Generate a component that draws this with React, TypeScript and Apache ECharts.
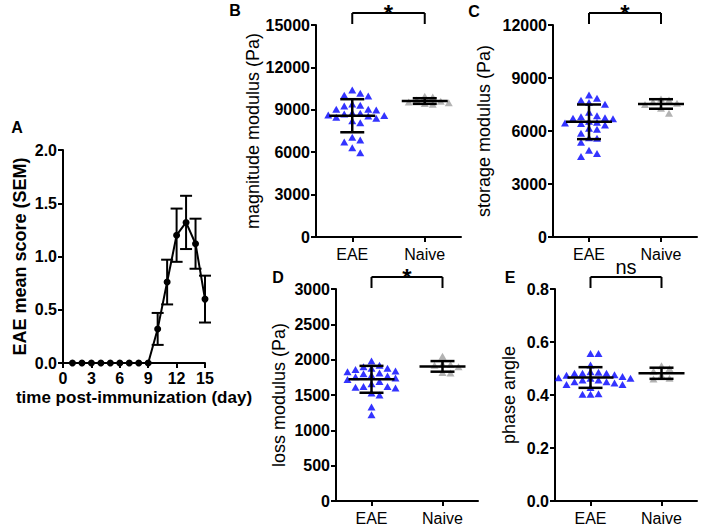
import React, { useEffect, useRef } from 'react';
import * as echarts from 'echarts';

// ---------- data ----------
const days = [1, 2, 3, 4, 5, 6, 7, 8, 9, 10, 11, 12, 13, 14, 15];
const scoreMean = [0, 0, 0, 0, 0, 0, 0, 0, 0, 0.32, 0.76, 1.2, 1.32, 1.12, 0.6];
const scoreSem = [0, 0, 0, 0, 0, 0, 0, 0, 0, 0.15, 0.21, 0.25, 0.25, 0.235, 0.22];
const dayTicks = [0, 3, 6, 9, 12, 15];

const groups = ['EAE', 'Naive'];

const magEae = [10170, 9980, 10030, 10400, 9410, 9270, 9040, 8990, 9040, 9320, 8560, 8470, 8750, 8800, 8630, 8700, 8230, 8090, 8600, 6860, 6720, 7050, 5960, 6320, 8400];
const magNaive = [9950, 9900, 9600, 9500, 9450, 9550, 9700, 9400];
const magMean = [8580, 9620];
const magSd = [1170, 200];

const storEae = [8040, 7850, 7620, 7740, 7510, 7060, 6810, 6720, 6870, 6750, 6420, 6550, 6700, 6450, 6340, 6490, 6100, 6150, 5870, 5590, 5360, 5620, 4910, 4550, 4720];
const storNaive = [7570, 7750, 7810, 7290, 7660, 7000, 7500];
const storMean = [6520, 7530];
const storSd = [980, 270];

const lossEae = [1920, 1860, 1980, 1880, 1880, 1770, 1800, 1810, 1830, 1840, 1780, 1620, 1620, 1660, 1690, 1610, 1500, 1530, 1330, 1220, 1600, 1740, 1720, 1760, 1900];
const lossNaive = [2050, 1930, 1920, 1820, 1810, 1900, 1940];
const lossMean = [1722, 1905];
const lossSd = [190, 75];

const phaseEae = [0.557, 0.557, 0.513, 0.486, 0.476, 0.488, 0.482, 0.482, 0.482, 0.463, 0.457, 0.45, 0.457, 0.45, 0.463, 0.44, 0.428, 0.44, 0.403, 0.403, 0.405, 0.47, 0.465, 0.475, 0.445];
const phaseNaive = [0.51, 0.5, 0.49, 0.46, 0.463, 0.475];
const phaseMean = [0.466, 0.482];
const phaseSd = [0.039, 0.021];

// ---------- layout / style ----------
const FONT = '"Liberation Sans", Arial, Helvetica, sans-serif';
const BLACK = '#000';

interface Panel {
  letter: string;
  letterPos: [number, number];
  grid: { left: number; top: number; width: number; height: number };
  yMax: number;
  yInterval: number;
  decimals: number;
  yName: string;
  nameGap: number;
  eae: number[];
  naive: number[];
  mean: number[];
  sd: number[];
  sig: string;
}

const panels: Panel[] = [
  { letter: 'B', letterPos: [235, 10], grid: { left: 316, top: 25, width: 145, height: 212 }, yMax: 15000, yInterval: 3000, decimals: 0, yName: 'magnitude modulus (Pa)', nameGap: 54, eae: magEae, naive: magNaive, mean: magMean, sd: magSd, sig: '*' },
  { letter: 'C', letterPos: [474, 11], grid: { left: 553, top: 25, width: 144, height: 212 }, yMax: 12000, yInterval: 3000, decimals: 0, yName: 'storage modulus (Pa)', nameGap: 60, eae: storEae, naive: storNaive, mean: storMean, sd: storSd, sig: '*' },
  { letter: 'D', letterPos: [278, 277], grid: { left: 336, top: 289, width: 142, height: 212 }, yMax: 3000, yInterval: 500, decimals: 0, yName: 'loss modulus (Pa)', nameGap: 48, eae: lossEae, naive: lossNaive, mean: lossMean, sd: lossSd, sig: '*' },
  { letter: 'E', letterPos: [510, 277], grid: { left: 555, top: 289, width: 142, height: 212 }, yMax: 0.8, yInterval: 0.2, decimals: 1, yName: 'phase angle', nameGap: 37, eae: phaseEae, naive: phaseNaive, mean: phaseMean, sd: phaseSd, sig: 'ns' },
];

const gridA = { left: 63, top: 150, width: 142, height: 213 };

// simple beeswarm: returns [x, y] in data units (x centred on `center`)
function swarm(values: number[], center: number, pxPerY: number, pxPerX: number): number[][] {
  const step = 8;
  const placed: { px: number; py: number }[] = [];
  const out: number[][] = [];
  const order = values.map((_, i) => i).sort((a, b) => values[b] - values[a]);
  for (const i of order) {
    const py = -values[i] * pxPerY;
    let chosen = 0;
    for (let k = 0; k < 40; k++) {
      const m = k === 0 ? 0 : (k % 2 === 1 ? (k + 1) / 2 : -k / 2);
      const px = m * step;
      const hit = placed.some((p) => Math.abs(p.px - px) < 7.5 && Math.abs(p.py - py) < 6.5);
      if (!hit) { chosen = px; break; }
    }
    placed.push({ px: chosen, py });
    out.push([center + chosen / pxPerX, values[i]]);
  }
  return out;
}

const axisLineStyle = { color: BLACK, width: 2 };

function buildOption() {
  const grids: any[] = [gridA];
  const xAxes: any[] = [
    {
      type: 'value', gridIndex: 0, min: 0, max: 15, interval: 3,
      axisLine: { show: true, onZero: false, lineStyle: axisLineStyle },
      axisTick: { show: true, length: 5, lineStyle: axisLineStyle },
      splitLine: { show: false },
      axisLabel: { color: BLACK, fontSize: 16, fontWeight: 'bold', fontFamily: FONT, margin: 7, customValues: dayTicks },
      name: 'time post-immunization (day)', nameLocation: 'middle', nameGap: 26,
      nameTextStyle: { color: BLACK, fontSize: 17, fontWeight: 'bold', fontFamily: FONT },
    },
  ];
  const yAxes: any[] = [
    {
      type: 'value', gridIndex: 0, min: 0, max: 2, interval: 0.5,
      axisLine: { show: true, lineStyle: axisLineStyle },
      axisTick: { show: true, length: 5, lineStyle: axisLineStyle },
      splitLine: { show: false },
      axisLabel: { color: BLACK, fontSize: 16, fontWeight: 'bold', fontFamily: FONT, margin: 6, formatter: (v: number) => v.toFixed(1) },
      name: 'EAE mean score (SEM)', nameLocation: 'middle', nameGap: 34,
      nameTextStyle: { color: BLACK, fontSize: 18, fontWeight: 'bold', fontFamily: FONT },
    },
  ];
  const series: any[] = [
    {
      type: 'line', xAxisIndex: 0, yAxisIndex: 0,
      data: days.map((d, i) => [d, scoreMean[i]]),
      symbol: 'circle', symbolSize: 7, showSymbol: true,
      lineStyle: { color: BLACK, width: 2 }, itemStyle: { color: BLACK },
      z: 3,
    },
    {
      type: 'custom', xAxisIndex: 0, yAxisIndex: 0,
      data: days.map((d, i) => [d, scoreMean[i], scoreSem[i]]).filter((r) => r[2] > 0),
      renderItem: (_p: any, api: any) => {
        const x = api.value(0), m = api.value(1), s = api.value(2);
        const hi = api.coord([x, m + s]);
        const lo = api.coord([x, m - s]);
        const style = { stroke: BLACK, lineWidth: 2 };
        return {
          type: 'group', children: [
            { type: 'line', shape: { x1: hi[0], y1: hi[1], x2: lo[0], y2: lo[1] }, style },
            { type: 'line', shape: { x1: hi[0] - 6, y1: hi[1], x2: hi[0] + 6, y2: hi[1] }, style },
            { type: 'line', shape: { x1: lo[0] - 6, y1: lo[1], x2: lo[0] + 6, y2: lo[1] }, style },
          ],
        };
      },
      z: 4,
    },
  ];
  const graphics: any[] = [
    { type: 'text', x: 17, y: 127, style: { text: 'A', fontSize: 16, fontWeight: 'bold', fontFamily: FONT, fill: BLACK, align: 'center', verticalAlign: 'middle' } },
  ];

  panels.forEach((p, idx) => {
    const gi = idx + 1;
    grids.push(p.grid);
    xAxes.push({
      type: 'category', gridIndex: gi, data: groups, boundaryGap: true,
      axisLine: { show: true, lineStyle: axisLineStyle },
      axisTick: { show: true, alignWithLabel: true, length: 5, lineStyle: axisLineStyle },
      axisLabel: { color: BLACK, fontSize: 16, fontFamily: FONT, margin: 9 },
    });
    const valIdx = xAxes.length;
    xAxes.push({ type: 'value', gridIndex: gi, min: 0.5, max: 2.5, show: false });
    const yIdx = yAxes.length;
    yAxes.push({
      type: 'value', gridIndex: gi, min: 0, max: p.yMax, interval: p.yInterval,
      axisLine: { show: true, lineStyle: axisLineStyle },
      axisTick: { show: true, length: 5, lineStyle: axisLineStyle },
      splitLine: { show: false },
      axisLabel: { color: BLACK, fontSize: 16, fontWeight: 'bold', fontFamily: FONT, margin: 6, formatter: (v: number) => v.toFixed(p.decimals) },
      name: p.yName, nameLocation: 'middle', nameGap: p.nameGap,
      nameTextStyle: { color: BLACK, fontSize: 18, fontFamily: FONT },
    });
    const pxPerY = p.grid.height / p.yMax;
    const pxPerX = p.grid.width / 2;
    series.push({
      type: 'scatter', xAxisIndex: valIdx, yAxisIndex: yIdx,
      data: swarm(p.eae, 1, pxPerY, pxPerX),
      symbol: 'triangle', symbolSize: [8, 7], itemStyle: { color: '#0000ff' }, z: 2,
    });
    series.push({
      type: 'scatter', xAxisIndex: valIdx, yAxisIndex: yIdx,
      data: swarm(p.naive, 2, pxPerY, pxPerX),
      symbol: 'triangle', symbolSize: [8, 7], itemStyle: { color: '#a0a0a0' }, z: 2,
    });
    series.push({
      type: 'custom', xAxisIndex: valIdx, yAxisIndex: yIdx,
      data: p.mean.map((m, i) => [i + 1, m, p.sd[i]]),
      renderItem: (_q: any, api: any) => {
        const x = api.value(0), m = api.value(1), s = api.value(2);
        const c = api.coord([x, m]);
        const hi = api.coord([x, m + s]);
        const lo = api.coord([x, m - s]);
        const style = { stroke: BLACK, lineWidth: 2.5 };
        return {
          type: 'group', children: [
            { type: 'line', shape: { x1: c[0], y1: hi[1], x2: c[0], y2: lo[1] }, style },
            { type: 'line', shape: { x1: c[0] - 23, y1: c[1], x2: c[0] + 23, y2: c[1] }, style },
            { type: 'line', shape: { x1: c[0] - 12, y1: hi[1], x2: c[0] + 12, y2: hi[1] }, style },
            { type: 'line', shape: { x1: c[0] - 12, y1: lo[1], x2: c[0] + 12, y2: lo[1] }, style },
          ],
        };
      },
      z: 5,
    });
    series.push({
      type: 'custom', xAxisIndex: valIdx, yAxisIndex: yIdx,
      data: [[1, 2, p.yMax]],
      clip: false,
      renderItem: (_q: any, api: any) => {
        const a = api.coord([api.value(0), api.value(2)]);
        const b = api.coord([api.value(1), api.value(2)]);
        const y = a[1] - 12;
        const style = { stroke: BLACK, lineWidth: 2 };
        const isStar = p.sig === '*';
        return {
          type: 'group', children: [
            { type: 'line', shape: { x1: a[0], y1: y, x2: b[0], y2: y }, style },
            { type: 'line', shape: { x1: a[0], y1: y, x2: a[0], y2: y + 11 }, style },
            { type: 'line', shape: { x1: b[0], y1: y, x2: b[0], y2: y + 11 }, style },
            {
              type: 'text', x: (a[0] + b[0]) / 2, y: isStar ? y : y - 10,
              style: { text: p.sig, fontSize: isStar ? 24 : 20, fontWeight: isStar ? 'bold' : 'normal', fontFamily: FONT, fill: BLACK, align: 'center', verticalAlign: 'middle' },
            },
          ],
        };
      },
      z: 5,
    });
    graphics.push({ type: 'text', x: p.letterPos[0], y: p.letterPos[1], style: { text: p.letter, fontSize: 16, fontWeight: 'bold', fontFamily: FONT, fill: BLACK, align: 'center', verticalAlign: 'middle' } });
  });

  return {
    animation: false,
    backgroundColor: '#fff',
    grid: grids,
    xAxis: xAxes,
    yAxis: yAxes,
    series,
    graphic: graphics,
  };
}

export default function App() {
  const ref = useRef<HTMLDivElement>(null);
  useEffect(() => {
    if (!ref.current) return;
    const chart = echarts.init(ref.current, undefined, { renderer: 'svg' });
    chart.setOption(buildOption() as any);
    return () => chart.dispose();
  }, []);
  return <div ref={ref} style={{ position: 'fixed', left: 0, top: 0, width: 702, height: 529 }} />;
}
